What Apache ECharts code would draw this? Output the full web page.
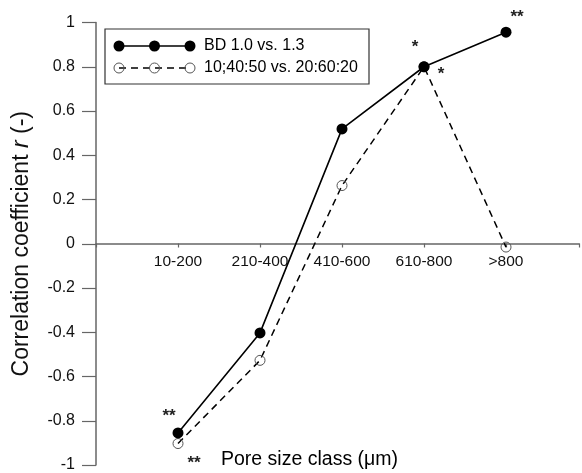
<!DOCTYPE html>
<html>
<head>
<meta charset="utf-8">
<script src="https://cdn.jsdelivr.net/npm/echarts@6/dist/echarts.min.js"></script>
<style>html,body{margin:0;padding:0;background:#fff}#c{width:582px;height:473px}</style>
</head>
<body>
<div id="c"></div>
<script>
// ---- data ----
const categories = ['10-200', '210-400', '410-600', '610-800', '>800'];
const bdValues = [-0.855, -0.403, 0.519, 0.80, 0.956];
const mixValues = [-0.903, -0.527, 0.263, 0.80, -0.015];
const bdStars = ['**', '', '', '*', '**'];
const mixStars = ['**', '', '', '*', ''];
const yTicks = [-1, -0.8, -0.6, -0.4, -0.2, 0, 0.2, 0.4, 0.6, 0.8, 1];
const seriesNames = ['BD 1.0 vs. 1.3', '10;40:50 vs. 20:60:20'];

// label offsets (styling, not data)
const bdStarOffset = [[-9, -17], null, null, [-9, -19], [11, -15]];
const mixStarOffset = [[16, 20], null, null, [17, 8], null];

const FONT = 'Liberation Sans, Arial, sans-serif';

function build(values, stars, offs) {
  return values.map((v, i) => {
    const item = { value: [i + 1, v] };
    if (stars[i]) {
      item.label = {
        show: true, formatter: stars[i], position: 'inside',
        offset: offs[i], fontSize: 17, fontWeight: 'bold', color: '#222', fontFamily: FONT
      };
    }
    return item;
  });
}

const gridTop = 22.5, gridBottom = 7.5, H = 473;
const plotH = H - gridTop - gridBottom;
const yMin = yTicks[0], yMax = yTicks[yTicks.length - 1];
// distance from bottom of grid to y = 0 line
const zeroOffset = plotH * (0 - yMin) / (yMax - yMin);

const chart = echarts.init(document.getElementById('c'));
const legendX = 119, legendY1 = 46, legendY2 = 68, step = 35.5;
const graphics = [
  { type: 'rect', shape: { x: 105, y: 29, width: 264, height: 55 },
    style: { fill: '#fff', stroke: '#333', lineWidth: 1.2 }, z: 10 },
  { type: 'line', shape: { x1: legendX, y1: legendY1, x2: legendX + 2 * step, y2: legendY1 },
    style: { stroke: '#000', lineWidth: 1.6 }, z: 11 },
  { type: 'line', shape: { x1: legendX, y1: legendY2, x2: legendX + 2 * step, y2: legendY2 },
    style: { stroke: '#000', lineWidth: 1.5, lineDash: [7, 5] }, z: 11 },
  { type: 'text', x: 204, y: legendY1, style: { text: seriesNames[0], font: '16px ' + FONT, fill: '#000', verticalAlign: 'middle' }, z: 12 },
  { type: 'text', x: 204, y: legendY2, style: { text: seriesNames[1], font: '16px ' + FONT, fill: '#000', verticalAlign: 'middle' }, z: 12 },
  { type: 'text', x: 221, y: 460, style: { text: 'Pore size class (μm)', font: '19.5px ' + FONT, fill: '#000', verticalAlign: 'middle' }, z: 12 }
];
for (let k = 0; k < 3; k++) {
  graphics.push({ type: 'circle', shape: { cx: legendX + k * step, cy: legendY1, r: 5.5 }, style: { fill: '#000' }, z: 12 });
  graphics.push({ type: 'circle', shape: { cx: legendX + k * step, cy: legendY2, r: 5 }, style: { fill: 'rgba(0,0,0,0)', stroke: '#555', lineWidth: 1 }, z: 12 });
}

chart.setOption({
  animation: false,
  backgroundColor: '#fff',
  textStyle: { fontFamily: FONT },
  grid: { left: 96, right: 0, top: gridTop, bottom: gridBottom, containLabel: false },
  xAxis: {
    type: 'value', min: 0, max: 5.89, interval: 1,
    position: 'bottom', offset: -zeroOffset,
    axisLine: { onZero: false, lineStyle: { color: '#666', width: 1.5 } },
    axisTick: { show: true, length: 4, lineStyle: { color: '#666', width: 1.2 } },
    axisLabel: { fontSize: 15.5, color: '#111', margin: 10, fontFamily: FONT,
      formatter: v => categories[Math.round(v) - 1] || '' },
    splitLine: { show: false }
  },
  yAxis: {
    type: 'value', min: yMin, max: yMax, interval: 0.2,
    axisLine: { show: true, onZero: false, lineStyle: { color: '#666', width: 1.5 } },
    axisTick: { show: true, length: 14, lineStyle: { color: '#666', width: 1.2 } },
    axisLabel: { fontSize: 16, color: '#111', margin: 21, fontFamily: FONT,
      formatter: v => String(Math.round(v * 10) / 10) },
    splitLine: { show: false },
    name: 'Correlation coefficient {i|r} (-)',
    nameLocation: 'middle', nameGap: 63,
    nameTextStyle: { fontSize: 23, color: '#111', fontFamily: FONT,
      rich: { i: { fontSize: 23, fontStyle: 'italic', color: '#111', fontFamily: FONT } } }
  },
  graphic: graphics,
  series: [
    { name: seriesNames[1], type: 'line', data: build(mixValues, mixStars, mixStarOffset),
      symbol: 'circle', symbolSize: 10,
      itemStyle: { color: 'rgba(0,0,0,0)', borderColor: '#555', borderWidth: 1 },
      lineStyle: { color: '#000', width: 1.5, type: [7, 5] }, z: 2 },
    { name: seriesNames[0], type: 'line', data: build(bdValues, bdStars, bdStarOffset),
      symbol: 'circle', symbolSize: 11,
      itemStyle: { color: '#000' },
      lineStyle: { color: '#000', width: 1.6 }, z: 3 }
  ]
});
</script>
</body>
</html>
